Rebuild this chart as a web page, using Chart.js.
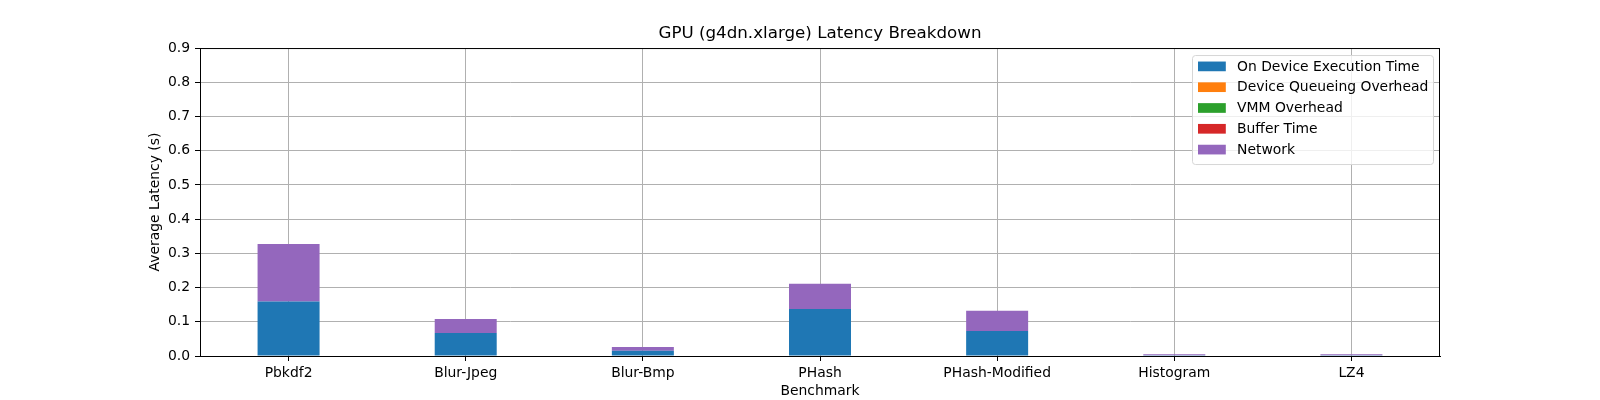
<!DOCTYPE html>
<html>
<head>
<meta charset="utf-8">
<script src="https://cdn.jsdelivr.net/npm/chart.js@4/dist/chart.umd.min.js"></script>
<style>
  html, body { margin: 0; padding: 0; background: #fff; }
  #wrap { width: 1600px; height: 400px; }
</style>
</head>
<body>
<div id="wrap"><canvas id="myChart" width="1600" height="400"></canvas></div>
<script>
const benchmarks = ["Pbkdf2", "Blur-Jpeg", "Blur-Bmp", "PHash", "PHash-Modified", "Histogram", "LZ4"];

const onDeviceTime   = [0.159, 0.067, 0.015, 0.137, 0.073, 0.0025, 0.0025];
const queueOverhead  = [0, 0, 0, 0, 0, 0, 0];
const vmmOverhead    = [0, 0, 0, 0, 0, 0, 0];
const bufferTime     = [0, 0, 0, 0, 0, 0, 0];
const networkTime    = [0.168, 0.041, 0.011, 0.074, 0.059, 0.0025, 0.0025];

const seriesNames = ["On Device Execution Time", "Device Queueing Overhead", "VMM Overhead", "Buffer Time", "Network"];
const seriesColors = ["#1f77b4", "#ff7f0e", "#2ca02c", "#d62728", "#9467bd"];
const seriesValues = [onDeviceTime, queueOverhead, vmmOverhead, bufferTime, networkTime];

const yTicks = [0, 0.1, 0.2, 0.3, 0.4, 0.5, 0.6, 0.7, 0.8, 0.9];

const FONT = "'DejaVu Sans', sans-serif";

let datasets = [];
for (let i = 0; i < seriesNames.length; i++) {
    datasets.push({
        label: seriesNames[i],
        data: seriesValues[i],
        backgroundColor: seriesColors[i],
        borderWidth: 0,
        barPercentage: 0.35,
        categoryPercentage: 1.0
    });
}

// matplotlib-style frame + legend box in the upper right corner
const framePlugin = {
    id: 'frame',
    afterDatasetsDraw(chart) {
        const {ctx, chartArea} = chart;
        ctx.save();
        ctx.strokeStyle = '#000';
        ctx.lineWidth = 1;
        ctx.strokeRect(chartArea.left + 0.5, chartArea.top + 0.5,
            chartArea.right - chartArea.left - 1, chartArea.bottom - chartArea.top);

        // legend
        const fs = 13.9;
        const rowH = 20.8;
        const boxW = 241, boxH = 109;
        const bx = chartArea.right - 7 - boxW;
        const by = chartArea.top + 7;
        ctx.beginPath();
        ctx.roundRect(bx + 0.5, by + 0.5, boxW, boxH, 3);
        ctx.fillStyle = 'rgba(255,255,255,0.8)';
        ctx.fill();
        ctx.strokeStyle = '#d6d6d6';
        ctx.stroke();
        ctx.font = fs + 'px ' + FONT;
        ctx.textBaseline = 'middle';
        chart.data.datasets.forEach((ds, i) => {
            const cy = by + 11.5 + i * rowH;
            ctx.fillStyle = ds.backgroundColor;
            ctx.fillRect(bx + 6, cy - 5, 27.8, 9.7);
            ctx.fillStyle = '#000';
            ctx.fillText(ds.label, bx + 45, cy + 0.5);
        });
        ctx.restore();
    }
};

let ctx = document.getElementById('myChart').getContext('2d');
let myChart = new Chart(ctx, {
    type: 'bar',
    data: {
        labels: benchmarks,
        datasets: datasets
    },
    plugins: [framePlugin],
    options: {
        responsive: false,
        animation: false,
        layout: { padding: { left: 0, right: 160, top: 0, bottom: 0 } },
        scales: {
            x: {
                stacked: true,
                offset: true,
                grid: {
                    offset: false,
                    color: '#b0b0b0',
                    lineWidth: 1,
                    tickColor: '#000',
                    tickLength: 5
                },
                border: { color: '#000', width: 1 },
                ticks: {
                    color: '#000',
                    padding: 4,
                    font: { family: FONT, size: 13.9 }
                },
                title: {
                    display: true,
                    text: 'Benchmark',
                    color: '#000',
                    font: { family: FONT, size: 13.9 },
                    padding: { top: 0, bottom: 0 }
                },
                afterFit(scale) { scale.height = 44; }
            },
            y: {
                stacked: true,
                min: 0,
                max: 0.9,
                afterBuildTicks(scale) {
                    scale.ticks = yTicks.map(v => ({ value: v }));
                },
                grid: {
                    color: '#b0b0b0',
                    lineWidth: 1,
                    tickColor: '#000',
                    tickLength: 5
                },
                border: { color: '#000', width: 1 },
                ticks: {
                    color: '#000',
                    padding: 5,
                    font: { family: FONT, size: 13.9 },
                    callback: v => Number(v).toFixed(1)
                },
                title: {
                    display: true,
                    text: 'Average Latency (s)',
                    color: '#000',
                    font: { family: FONT, size: 13.9 },
                    padding: { top: 147, bottom: 0 }
                },
                afterFit(scale) { scale.width = 200; }
            }
        },
        plugins: {
            legend: { display: false },
            tooltip: { enabled: false },
            title: {
                display: true,
                fullSize: false,
                text: 'GPU (g4dn.xlarge) Latency Breakdown',
                color: '#000',
                font: { family: FONT, size: 16.7, weight: 'normal' },
                padding: { top: 24, bottom: 4 }
            }
        }
    }
});
</script>
</body>
</html>
